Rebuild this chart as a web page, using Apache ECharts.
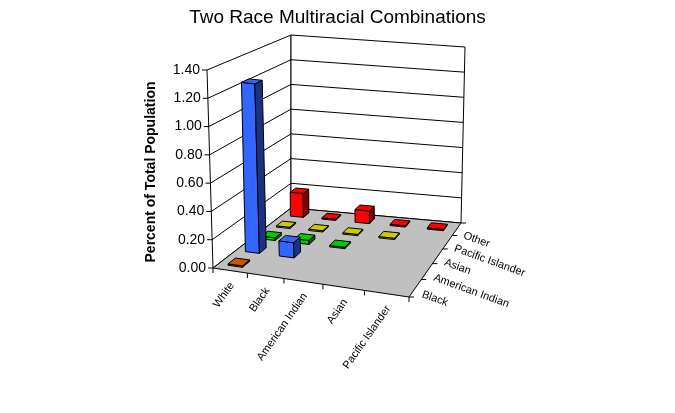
<!DOCTYPE html>
<html>
<head>
<meta charset="utf-8">
<title>Two Race Multiracial Combinations</title>
<script src="https://cdn.jsdelivr.net/npm/echarts@6/dist/echarts.min.js"></script>
<style>
    html, body { margin: 0; padding: 0; background: #fff; }
    #chart { width: 675px; height: 413px; }
</style>
</head>
<body>
<div id="chart"></div>
<script>
var categories = ['White', 'Black', 'American Indian', 'Asian', 'Pacific Islander'];
var seriesNames = ['Black', 'American Indian', 'Asian', 'Pacific Islander', 'Other'];
var valueTicks = [0, 0.2, 0.4, 0.6, 0.8, 1.0, 1.2, 1.4];

// percent of total population, one value per category (null = no column)
var blackVals = [0.01, null, null, null, null];
var amIndianVals = [1.24, 0.11, null, null, null];
var asianVals = [0.02, 0.03, 0.01, null, null];
var pacificVals = [0.01, 0.01, 0.01, 0.01, null];
var otherVals = [0.19, 0.01, 0.10, 0.01, 0.01];

var rows = [blackVals, amIndianVals, asianVals, pacificVals, otherVals];
var faceColors = ['#CC5500', '#3366FF', '#00CC00', '#CCCC00', '#FF0000'];
var sideColors = ['#6B2D00', '#1A3380', '#006600', '#666600', '#800000'];

var FONT = '"Liberation Sans", Arial, sans-serif';

// box corners on screen: front-left, front-right, back-right, back-left
var VIEW = {
    floor: [[213, 268], [409, 297], [461, 223], [291, 208]],
    ceil: [[207, 70], [407, 96], [465, 47], [291, 35]],
    barSize: 0.42
};

// unit square -> quad (perspective)
function quadMap(q) {
    var x0 = q[0][0], y0 = q[0][1], x1 = q[1][0], y1 = q[1][1],
        x2 = q[2][0], y2 = q[2][1], x3 = q[3][0], y3 = q[3][1];
    var dx1 = x1 - x2, dy1 = y1 - y2, dx2 = x3 - x2, dy2 = y3 - y2,
        dx3 = x0 - x1 + x2 - x3, dy3 = y0 - y1 + y2 - y3;
    var den = dx1 * dy2 - dy1 * dx2;
    var g = (dx3 * dy2 - dy3 * dx2) / den,
        h = (dx1 * dy3 - dy1 * dx3) / den;
    var a = x1 - x0 + g * x1, b = x3 - x0 + h * x3,
        d = y1 - y0 + g * y1, e = y3 - y0 + h * y3;
    return function (u, v) {
        var w = g * u + h * v + 1;
        return [(a * u + b * v + x0) / w, (d * u + e * v + y0) / w];
    };
}

var floorAt = quadMap(VIEW.floor),
    ceilAt = quadMap(VIEW.ceil);
var vMin = valueTicks[0], vMax = valueTicks[valueTicks.length - 1];

// u: along categories, v: along series (depth), val: value axis
function project(u, v, val) {
    var a = floorAt(u, v), b = ceilAt(u, v);
    var t = echarts.number.linearMap(val, [vMin, vMax], [0, 1], true);
    return [a[0] + (b[0] - a[0]) * t, a[1] + (b[1] - a[1]) * t];
}

function poly(points, fill) {
    return {
        type: 'polygon',
        shape: { points: points },
        style: { fill: fill, stroke: '#000', lineWidth: 1 }
    };
}

function label(x, y, text, opt) {
    return {
        type: 'text',
        x: x, y: y,
        rotation: opt.rotation || 0,
        style: {
            text: text,
            font: opt.font || ('14px ' + FONT),
            fill: '#000',
            align: opt.align, textAlign: opt.align,
            verticalAlign: 'middle', textVerticalAlign: 'middle'
        }
    };
}

function renderFrame(params, api) {
    var kids = [];
    var line = { stroke: '#000', fill: null, lineWidth: 1 };
    var nc = categories.length, ns = seriesNames.length;

    // walls + floor
    kids.push(poly([project(0, 0, vMin), project(0, 1, vMin), project(0, 1, vMax), project(0, 0, vMax)], '#fff'));
    kids.push(poly([project(0, 1, vMin), project(1, 1, vMin), project(1, 1, vMax), project(0, 1, vMax)], '#fff'));
    kids.push(poly([project(0, 0, vMin), project(1, 0, vMin), project(1, 1, vMin), project(0, 1, vMin)], '#C0C0C0'));

    // gridlines, value ticks
    valueTicks.forEach(function (t) {
        if (t > vMin && t < vMax) {
            kids.push({ type: 'polyline', shape: { points: [project(0, 0, t), project(0, 1, t), project(1, 1, t)] }, style: line });
        }
        var p = project(0, 0, t);
        kids.push({ type: 'line', shape: { x1: p[0] - 5, y1: p[1], x2: p[0], y2: p[1] }, style: line });
        kids.push(label(p[0] - 7, p[1], t.toFixed(2), { align: 'right' }));
    });

    // category axis (front edge)
    for (var k = 0; k <= nc; k++) {
        var p = project(k / nc, 0, vMin);
        kids.push({ type: 'line', shape: { x1: p[0], y1: p[1], x2: p[0], y2: p[1] + 5 }, style: line });
    }
    categories.forEach(function (name, i) {
        var p = project((i + 0.5) / nc, 0, vMin);
        kids.push(label(p[0] + 2, p[1] + 13, name, {
            align: 'right', rotation: 55 * Math.PI / 180, font: '11px ' + FONT
        }));
    });

    // series axis (right edge)
    for (k = 0; k <= ns; k++) {
        var q = project(1, k / ns, vMin);
        kids.push({ type: 'line', shape: { x1: q[0], y1: q[1], x2: q[0] + 5, y2: q[1] }, style: line });
    }
    seriesNames.forEach(function (name, j) {
        var p = project(1, (j + 0.5) / ns, vMin);
        kids.push(label(p[0] + 7, p[1] + 6, name, {
            align: 'left', rotation: -20 * Math.PI / 180, font: '11px ' + FONT
        }));
    });

    return { type: 'group', children: kids };
}

function barRenderer(j) {
    return function (params, api) {
        var i = api.value(0), h = api.value(1);
        var half = VIEW.barSize / 2;
        var nc = categories.length, ns = seriesNames.length;
        var u0 = (i + 0.5 - half) / nc, u1 = (i + 0.5 + half) / nc,
            v0 = (j + 0.5 - half) / ns, v1 = (j + 0.5 + half) / ns;
        var front = [project(u0, v0, 0), project(u1, v0, 0), project(u1, v0, h), project(u0, v0, h)];
        var side = [project(u1, v0, 0), project(u1, v1, 0), project(u1, v1, h), project(u1, v0, h)];
        var top = [project(u0, v0, h), project(u1, v0, h), project(u1, v1, h), project(u0, v1, h)];
        return {
            type: 'group',
            children: [poly(front, faceColors[j]), poly(side, sideColors[j]), poly(top, faceColors[j])]
        };
    };
}

var chart = echarts.init(document.getElementById('chart'));

var series = [{
    type: 'custom',
    name: 'frame',
    coordinateSystem: 'none',
    silent: true,
    data: [[0]],
    renderItem: renderFrame
}];

// back rows first so nearer columns paint over them
for (var j = rows.length - 1; j >= 0; j--) {
    var data = [];
    rows[j].forEach(function (v, i) {
        if (v != null) data.push([i, v]);
    });
    series.push({
        type: 'custom',
        name: seriesNames[j],
        coordinateSystem: 'none',
        color: faceColors[j],
        data: data,
        renderItem: barRenderer(j)
    });
}

chart.setOption({
    animation: false,
    backgroundColor: '#fff',
    title: {
        text: 'Two Race Multiracial Combinations',
        left: 'center',
        top: 3,
        textStyle: { fontSize: 19, fontWeight: 'normal', fontFamily: FONT, color: '#000' }
    },
    graphic: [{
        type: 'text',
        x: 151, y: 172,
        rotation: Math.PI / 2,
        style: {
            text: 'Percent of Total Population',
            font: 'bold 14px ' + FONT,
            fill: '#000',
            align: 'center', textAlign: 'center',
            verticalAlign: 'middle', textVerticalAlign: 'middle'
        }
    }],
    series: series
});
</script>
</body>
</html>
